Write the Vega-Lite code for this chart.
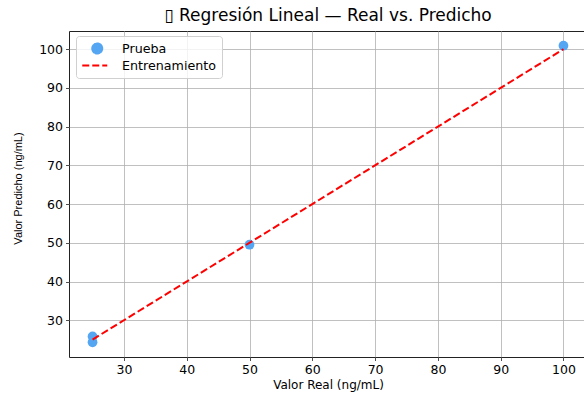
{
  "$schema": "https://vega.github.io/schema/vega-lite/v6.json",
  "width": 518,
  "height": 326,
  "autosize": "none",
  "padding": {"left": 69, "top": 31, "right": 0, "bottom": 37},
  "background": "white",
  "title": {"text": "▯ Regresión Lineal — Real vs. Predicho", "font": "DejaVu Sans", "fontSize": 17, "fontWeight": "normal", "color": "#000000", "offset": 6},
  "config": {
    "view": {"stroke": "#222222", "strokeWidth": 1},
    "axis": {
      "labelFont": "DejaVu Sans", "labelFontSize": 12.5, "labelColor": "#000000",
      "titleFont": "DejaVu Sans", "titleFontSize": 12, "titleFontWeight": "normal", "titleColor": "#000000",
      "tickColor": "#222222", "tickSize": 3.5, "tickWidth": 0.8, "labelPadding": 3,
      "gridColor": "#b0b0b0", "gridWidth": 0.8, "domain": false
    }
  },
  "datasets": {
    "prueba": [
      {"real": 25, "pred": 25.8, "serie": "Prueba"},
      {"real": 25, "pred": 24.3, "serie": "Prueba"},
      {"real": 50, "pred": 49.5, "serie": "Prueba"},
      {"real": 100, "pred": 100.9, "serie": "Prueba"}
    ],
    "linea": [
      {"real": 25, "pred": 25, "serie": "Entrenamiento"},
      {"real": 100, "pred": 100, "serie": "Entrenamiento"}
    ]
  },
  "layer": [
    {
      "data": {"name": "prueba"},
      "mark": {"type": "point", "filled": true, "size": 95, "opacity": 1},
      "encoding": {
        "x": {"field": "real", "type": "quantitative", "scale": {"domain": [21.25, 103.75], "nice": false, "zero": false}, "axis": {"values": [30, 40, 50, 60, 70, 80, 90, 100], "title": "Valor Real (ng/mL)", "titlePadding": 3}},
        "y": {"field": "pred", "type": "quantitative", "scale": {"domain": [20.5, 104.7], "nice": false, "zero": false}, "axis": {"values": [30, 40, 50, 60, 70, 80, 90, 100], "title": "Valor Predicho (ng/mL)", "titleFont": "Liberation Sans", "titleFontSize": 11, "titlePadding": 15, "titleY": 157}},
        "color": {
          "field": "serie", "type": "nominal",
          "scale": {"domain": ["Prueba", "Entrenamiento"], "range": ["#55a6f2", "#ff0000"]},
          "legend": {
            "orient": "none", "legendX": 7, "legendY": 5, "title": null,
            "fillColor": "rgba(255,255,255,0.8)", "strokeColor": "#d0d0d0", "cornerRadius": 3, "padding": 5,
            "labelFont": "DejaVu Sans", "labelFontSize": 12.7, "labelColor": "#000000", "labelOffset": 26,
            "rowPadding": 0, "symbolSize": 156,
            "encoding": {
              "symbols": {
                "shape": {"value": {"expr": "datum.value === 'Entrenamiento' ? 'M-1,0H3' : 'M0.6,0A0.8,0.8,0,1,0,2.2,0A0.8,0.8,0,1,0,0.6,0Z'"}},
                "size": {"value": 156},
                "fill": {"value": {"expr": "datum.value === 'Entrenamiento' ? 'transparent' : '#55a6f2'"}},
                "stroke": {"value": {"expr": "datum.value === 'Entrenamiento' ? '#ff0000' : 'transparent'"}},
                "strokeWidth": {"value": 2},
                "strokeDash": {"value": {"expr": "datum.value === 'Entrenamiento' ? [7, 3] : [1, 0]"}},
                "opacity": {"value": 1}
              }
            }
          }
        }
      }
    },
    {
      "data": {"name": "linea"},
      "mark": {"type": "line", "strokeDash": [7.4, 3.2], "strokeWidth": 2},
      "encoding": {
        "x": {"field": "real", "type": "quantitative"},
        "y": {"field": "pred", "type": "quantitative"},
        "color": {"field": "serie", "type": "nominal"}
      }
    }
  ]
}
